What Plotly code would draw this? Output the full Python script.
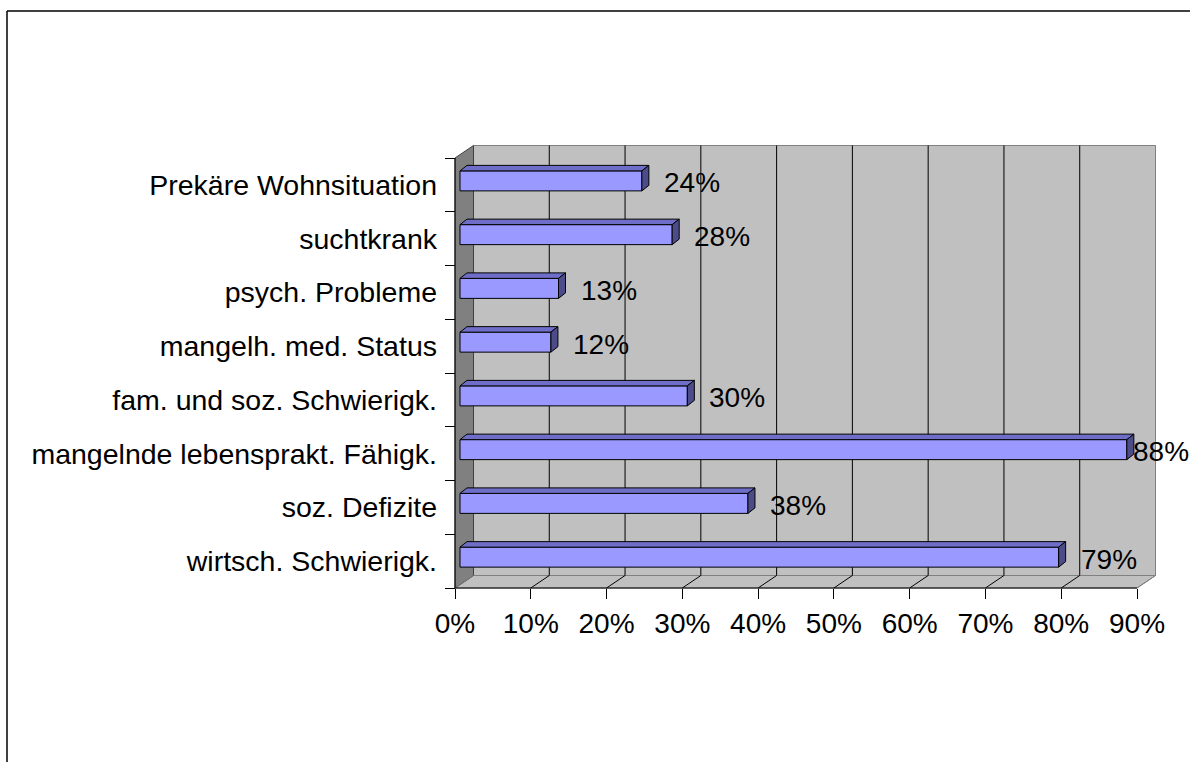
import plotly.graph_objects as go

# ---------------- data ----------------
categories = ["wirtsch. Schwierigk.", "soz. Defizite", "mangelnde lebensprakt. Fähigk.",
              "fam. und soz. Schwierigk.", "mangelh. med. Status", "psych. Probleme",
              "suchtkrank", "Prekäre Wohnsituation"]
values = [79, 38, 88, 30, 12, 13, 28, 24]
x_ticks = [0, 10, 20, 30, 40, 50, 60, 70, 80, 90]
x_tick_labels = ["0%", "10%", "20%", "30%", "40%", "50%", "60%", "70%", "80%", "90%"]
value_labels = [f"{v}%" for v in values]

# ---------------- geometry (pixels) ----------------
W, H = 1190, 762
X0, X90 = 455, 1137          # front axis 0% and 90% in px
Y_FLOOR, Y_TOP = 588, 158    # front axis bottom / top in px
N = len(categories)
XMAX = x_ticks[-1]
K = (X90 - X0) / XMAX        # px per %
L = (Y_FLOOR - Y_TOP) / N    # px per category


def dx(p):
    return p / K


def dy(p):
    return p / L


xr = [-X0 / K, (W - X0) / K]
yr = [-0.5 - (H - Y_FLOOR) / L, -0.5 + Y_FLOOR / L]

DX, DY = 18.5, 12.5          # depth of walls
y_lo, y_hi = -0.5, N - 0.5

FONT = "Liberation Sans, Arial, sans-serif"
shapes = []

# floor
shapes.append(dict(type="path", xref="x", yref="y", layer="below",
                   path=f"M 0,{y_lo} L {XMAX},{y_lo} L {XMAX + dx(DX)},{y_lo + dy(DY)} "
                        f"L {dx(DX)},{y_lo + dy(DY)} Z",
                   fillcolor="#C0C0C0", line=dict(color="#808080", width=1)))
# back wall
shapes.append(dict(type="rect", xref="x", yref="y", layer="below",
                   x0=dx(DX), x1=XMAX + dx(DX), y0=y_lo + dy(DY), y1=y_hi + dy(DY),
                   fillcolor="#C0C0C0", line=dict(color="#808080", width=1)))
# left wall
shapes.append(dict(type="path", xref="x", yref="y", layer="below",
                   path=f"M 0,{y_lo} L 0,{y_hi} L {dx(DX)},{y_hi + dy(DY)} "
                        f"L {dx(DX)},{y_lo + dy(DY)} Z",
                   fillcolor="#808080", line=dict(color="#404040", width=1)))
# back wall gridlines
for t in x_ticks[1:-1]:
    shapes.append(dict(type="line", xref="x", yref="y", layer="below",
                       x0=t + dx(DX), x1=t + dx(DX), y0=y_lo + dy(DY), y1=y_hi + dy(DY),
                       line=dict(color="#000000", width=1)))
# floor diagonals
for t in x_ticks:
    shapes.append(dict(type="line", xref="x", yref="y", layer="below",
                       x0=t, x1=t + dx(DX), y0=y_lo, y1=y_lo + dy(DY),
                       line=dict(color="#000000" if 0 < t < XMAX else "#808080", width=1)))
# front axis lines
shapes.append(dict(type="line", xref="x", yref="y", x0=0, x1=XMAX, y0=y_lo, y1=y_lo,
                   line=dict(color="#000000", width=1)))
shapes.append(dict(type="line", xref="x", yref="y", x0=0, x1=0, y0=y_lo, y1=y_hi,
                   line=dict(color="#000000", width=1)))
# outer chart border
shapes.append(dict(type="line", xref="paper", yref="paper", x0=7 / W, x1=7 / W,
                   y0=0, y1=1 - 11 / H, line=dict(color="#000000", width=1.5)))
shapes.append(dict(type="line", xref="paper", yref="paper", x0=7 / W, x1=1,
                   y0=1 - 11 / H, y1=1 - 11 / H, line=dict(color="#000000", width=1.5)))

# ---------------- bars ----------------
B_OX, B_OY = 5, 4        # bar offset (px) into depth
B_H = 20                 # bar thickness (px)
T_DX, T_DY = 7, 5.5      # bar's own depth (px)

base = dx(B_OX)
ycent = [i + dy(B_OY) for i in range(N)]

top_x, top_y, side_x, side_y = [], [], [], []
for i, v in enumerate(values):
    yt = ycent[i] + dy(B_H / 2)
    yb = ycent[i] - dy(B_H / 2)
    xe = base + v
    top_x += [base, xe, xe + dx(T_DX), base + dx(T_DX), base, None]
    top_y += [yt, yt, yt + dy(T_DY), yt + dy(T_DY), yt, None]
    side_x += [xe, xe, xe + dx(T_DX), xe + dx(T_DX), xe, None]
    side_y += [yb, yt, yt + dy(T_DY), yb + dy(T_DY), yb, None]

fig = go.Figure()
fig.add_trace(go.Bar(orientation="h", x=values, y=ycent, base=base, width=dy(B_H),
                     marker=dict(color="#9999FF", line=dict(color="#000000", width=1)),
                     hoverinfo="skip"))
fig.add_trace(go.Scatter(x=top_x, y=top_y, mode="lines", fill="toself",
                         fillcolor="#6E6EC8", line=dict(color="#000000", width=1),
                         hoverinfo="skip"))
fig.add_trace(go.Scatter(x=side_x, y=side_y, mode="lines", fill="toself",
                         fillcolor="#4C4C8A", line=dict(color="#000000", width=1),
                         hoverinfo="skip"))

# value labels
LBL_W = 59
annotations = []
for i, v in enumerate(values):
    lx = min(base + v + dx(20), dx(W - LBL_W - X0))
    annotations.append(dict(x=lx, y=i + dy(2), xref="x", yref="y", text=value_labels[i],
                            showarrow=False, xanchor="left", yanchor="middle",
                            font=dict(family=FONT, size=28, color="#000000")))

fig.update_layout(
    width=W, height=H, autosize=False,
    margin=dict(l=0, r=0, t=0, b=0, pad=0),
    paper_bgcolor="#FFFFFF", plot_bgcolor="#FFFFFF",
    showlegend=False, hovermode=False,
    shapes=shapes, annotations=annotations,
    font=dict(family=FONT, color="#000000"),
    xaxis=dict(domain=[0, 1], range=xr, anchor="free", position=(H - Y_FLOOR) / H,
               tickmode="array", tickvals=x_ticks, ticktext=x_tick_labels,
               ticks="outside", ticklen=10, tickcolor="#000000", tickwidth=1,
               tickfont=dict(family=FONT, size=28, color="#000000"),
               ticklabelstandoff=0,
               showline=False, showgrid=False, zeroline=False, fixedrange=True),
    yaxis=dict(domain=[0, 1], range=yr, anchor="free", position=X0 / W,
               tickmode="array", tickvals=list(range(N)), ticktext=categories,
               ticks="", ticklen=0,
               tickfont=dict(family=FONT, size=28.5, color="#000000"),
               ticklabelstandoff=18,
               minor=dict(tickmode="array", tickvals=[k - 0.5 for k in range(N + 1)],
                          ticks="outside", ticklen=10, tickcolor="#000000", tickwidth=1,
                          showgrid=False),
               showline=False, showgrid=False, zeroline=False, fixedrange=True),
)

fig.write_html("out.html", config={"displayModeBar": False},
               post_script="document.body.style.margin='0';document.body.style.overflow='hidden';")
